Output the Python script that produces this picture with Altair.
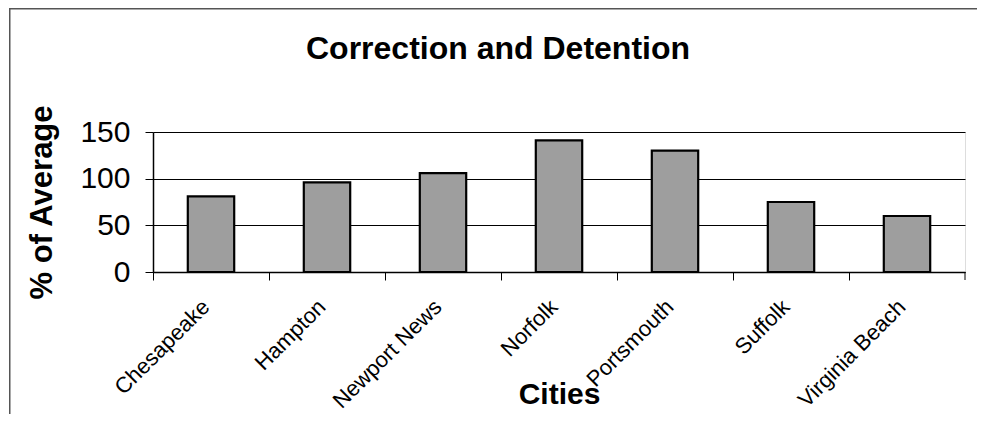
import altair as alt
import pandas as pd

cities = ["Chesapeake", "Hampton", "Newport News", "Norfolk", "Portsmouth", "Suffolk", "Virginia Beach"]
values = [81, 96, 106, 141, 130, 75, 60]
y_ticks = [0, 50, 100, 150]
chart_title = "Correction and Detention"

df = pd.DataFrame({"City": cities, "Value": values})
one = pd.DataFrame({"k": [0]})

W, H = 812, 140
FONT = "Liberation Sans"

bars = alt.Chart(df).mark_bar(
    width=alt.RelativeBandSize(0.4),
    color="#9e9e9e",
    stroke="black",
    strokeWidth=2.2,
).encode(
    x=alt.X(
        "City:N",
        sort=cities,
        scale=alt.Scale(paddingInner=0, paddingOuter=0),
        axis=alt.Axis(
            title="Cities",
            bandPosition=0,
            labelAngle=-45,
            labelAlign="right",
            labelBaseline="middle",
            labelOffset=-5,
            labelPadding=23,
            labelFont=FONT,
            labelFontSize=22,
            labelColor="black",
            tickSize=8,
            tickColor="black",
            domainColor="black",
            domainWidth=1.5,
            titleFont=FONT,
            titleFontSize=30,
            titleFontWeight="bold",
            titleColor="black",
            titleY=131,
            titleBaseline="alphabetic",
            grid=False,
            labelOverlap=False,
        ),
    ),
    y=alt.Y(
        "Value:Q",
        scale=alt.Scale(domain=[0, 150], nice=False),
        axis=alt.Axis(
            title="% of Average",
            values=y_ticks,
            labelFont=FONT,
            labelFontSize=30,
            labelColor="black",
            labelPadding=15,
            tickSize=8,
            tickColor="black",
            domainColor="black",
            domainWidth=1.5,
            grid=True,
            gridColor="black",
            gridWidth=1,
            titleFont=FONT,
            titleFontSize=31,
            titleFontWeight="bold",
            titleColor="black",
            titleAngle=-90,
            titleX=-111,
            titleY=70,
            titleAlign="center",
            titleBaseline="middle",
        ),
    ),
)

title_text = alt.Chart(one).mark_text(
    font=FONT, fontSize=32, fontWeight="bold", color="black",
    align="center", baseline="alphabetic",
).encode(
    x=alt.value(345), y=alt.value(-73), text=alt.value(chart_title)
)

end_tick = alt.Chart(one).mark_rule(color="black", strokeWidth=1).encode(
    x=alt.value(W), y=alt.value(H), y2=alt.value(H + 8)
)
frame_top = alt.Chart(one).mark_rect(color="#555555", strokeWidth=0).encode(
    x=alt.value(-144), x2=alt.value(W + 12), y=alt.value(-124), y2=alt.value(-122.5)
)
frame_left = alt.Chart(one).mark_rect(color="#555555", strokeWidth=0).encode(
    x=alt.value(-144), x2=alt.value(-142.5), y=alt.value(-124), y2=alt.value(H + 150)
)

chart = alt.layer(bars, end_tick, frame_top, frame_left, title_text).properties(
    width=W,
    height=H,
    autosize=alt.AutoSizeParams(type="none"),
    padding={"left": 145, "top": 124, "right": 12, "bottom": 142},
).configure_view(
    fill="#c2c2c2",
    stroke="black",
    strokeWidth=1.5,
).configure(background="white")

chart.save("out.html", embed_options={"renderer": "svg", "actions": False})
